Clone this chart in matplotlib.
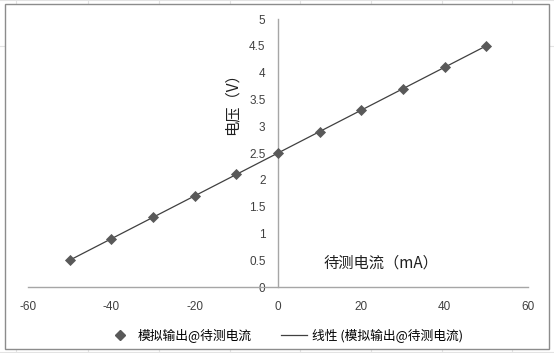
import numpy as np
import matplotlib
matplotlib.use("Agg")
import matplotlib.pyplot as plt
from matplotlib.patches import Rectangle
from matplotlib.lines import Line2D

plt.rcParams['font.family'] = ['Noto Sans CJK SC', 'DejaVu Sans']
plt.rcParams['axes.unicode_minus'] = False

# data
current_mA = [-50, -40, -30, -20, -10, 0, 10, 20, 30, 40, 50]
voltage_V = [0.5, 0.9, 1.3, 1.7, 2.1, 2.5, 2.9, 3.3, 3.7, 4.1, 4.5]
x_ticks = [-60, -40, -20, 0, 20, 40, 60]
y_ticks = [0, 0.5, 1, 1.5, 2, 2.5, 3, 3.5, 4, 4.5, 5]
y_tick_labels = ['0', '0.5', '1', '1.5', '2', '2.5', '3', '3.5', '4', '4.5', '5']
series_name = '模拟输出@待测电流'
trend_name = '线性 (模拟输出@待测电流)'

W, H = 554, 353
fig = plt.figure(figsize=(W / 100, H / 100), dpi=100)
fig.patch.set_facecolor('white')

# spreadsheet grid showing around the chart
for gx in [16, 88, 159, 230, 300, 371, 442, 512]:
    fig.add_artist(Line2D([gx / W, gx / W], [0, 1], color='#e3e3e3', lw=0.8, zorder=0))
for gy in [0, 46, 352]:
    fig.add_artist(Line2D([0, 1], [1 - gy / H, 1 - gy / H], color='#e3e3e3', lw=0.8, zorder=0))

# chart frame
fig.add_artist(Rectangle((5 / W, 1 - 349 / H), 544 / W, 345 / H, transform=fig.transFigure,
                         facecolor='white', edgecolor='#8c8c8c', lw=1.0, zorder=1))

ax = fig.add_axes([28 / W, 1 - 287 / H, 500 / W, 268 / H], zorder=2)
ax.patch.set_alpha(0)

# linear trendline (fit of the series, as Excel does)
k, b = np.polyfit(current_mA, voltage_V, 1)
xs = np.array([min(current_mA), max(current_mA)])
ax.plot(xs, k * xs + b, color='#404040', lw=0.9, zorder=3)
ax.scatter(current_mA, voltage_V, marker='D', s=32, color='#595959', zorder=4, linewidths=0)

ax.set_xlim(-60, 60)
ax.set_ylim(0, 5)
ax.set_xticks(x_ticks)
ax.set_yticks(y_ticks)
ax.set_yticklabels(y_tick_labels)

ax.spines['left'].set_position(('data', 0))
ax.spines['bottom'].set_position(('data', 0))
ax.spines['top'].set_visible(False)
ax.spines['right'].set_visible(False)
for s in ['left', 'bottom']:
    ax.spines[s].set_color('#a6a6a6')
    ax.spines[s].set_linewidth(1.0)

ax.tick_params(axis='both', length=0, labelsize=8.5, colors='#404040')
ax.tick_params(axis='x', pad=10)
ax.tick_params(axis='y', pad=9)
for lab in ax.get_xticklabels() + ax.get_yticklabels():
    lab.set_family(['Liberation Sans', 'DejaVu Sans'])

fig.text(232 / W, 1 - 100 / H, '电压（V）', rotation=90, ha='center', va='center',
         fontsize=11, color='#202020')
fig.text(381 / W, 1 - 263 / H, '待测电流（mA）', ha='center', va='center',
         fontsize=11, color='#202020')

# legend
handles = [Line2D([], [], marker='D', ls='none', color='#595959', markersize=5),
           Line2D([], [], color='#404040', lw=0.9)]
fig.legend(handles, [series_name, trend_name], loc='center', bbox_to_anchor=(285 / W, 1 - 335 / H),
           ncol=2, frameon=False, fontsize=9.2, handlelength=2.0, columnspacing=2.3,
           handletextpad=0.4)

fig.savefig('out.png', dpi=100)
